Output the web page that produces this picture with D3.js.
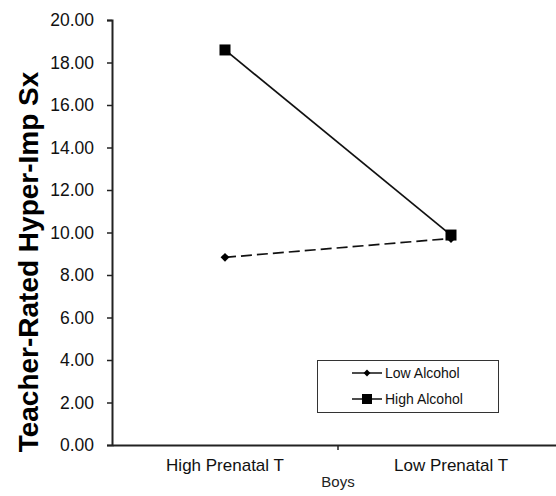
<!DOCTYPE html>
<html><head><meta charset="utf-8">
<script src="https://cdn.jsdelivr.net/npm/d3@7"></script>
<style>body{margin:0;background:#fff}svg{display:block}</style>
</head><body>
<svg id="c" width="556" height="496"></svg>
<script>
const categories = ["High Prenatal T", "Low Prenatal T"];
const lowAlcohol = [8.83, 9.72];
const highAlcohol = [18.59, 9.88];
const yTicks = [0, 2, 4, 6, 8, 10, 12, 14, 16, 18, 20];
const seriesNames = ["Low Alcohol", "High Alcohol"];

const FONT = "Liberation Sans, Arial, sans-serif";
const svg = d3.select("#c");
const x = d3.scaleBand().domain(categories).range([112, 564]);
const y = d3.scaleLinear().domain([0, 20]).range([445, 20]);
const cx = c => x(c) + x.bandwidth() / 2;

// y axis
const ya = svg.append("g").attr("transform", "translate(112,0)")
  .call(d3.axisLeft(y).tickValues(yTicks).tickFormat(d3.format(".2f")).tickSizeOuter(0).tickSize(5).tickPadding(13));
ya.select(".domain").attr("stroke", "#222").attr("stroke-width", 2);
ya.selectAll(".tick line").attr("stroke", "#222").attr("stroke-width", 1.5);
ya.selectAll("text").attr("font-family", FONT).attr("font-size", 17.5).attr("fill", "#111");

// x axis
const xa = svg.append("g").attr("transform", "translate(0,445)")
  .call(d3.axisBottom(x).tickSize(0).tickSizeOuter(0).tickPadding(14));
xa.select(".domain").attr("stroke", "#222").attr("stroke-width", 2);
xa.selectAll(".tick line").remove();
xa.selectAll("text").attr("font-family", FONT).attr("font-size", 17).attr("fill", "#111");
// boundary tick mark between categories
svg.append("line").attr("x1", x(categories[1])).attr("x2", x(categories[1]))
  .attr("y1", 445).attr("y2", 450).attr("stroke", "#222").attr("stroke-width", 1.5);

svg.append("text").attr("x", x(categories[1])).attr("y", 487).attr("text-anchor", "middle")
  .attr("font-family", FONT).attr("font-size", 15).attr("fill", "#222").text("Boys");

svg.append("text").attr("transform", "translate(38,262) rotate(-90)").attr("text-anchor", "middle")
  .attr("font-family", FONT).attr("font-size", 28).attr("font-weight", "bold")
  .attr("fill", "#000").text("Teacher-Rated Hyper-Imp Sx");

const line = d3.line().x((d, i) => cx(categories[i])).y(d => y(d));

svg.append("path").datum(lowAlcohol).attr("d", line).attr("fill", "none")
  .attr("stroke", "#111").attr("stroke-width", 1.7).attr("stroke-dasharray", "11,5");
svg.append("path").datum(highAlcohol).attr("d", line).attr("fill", "none")
  .attr("stroke", "#111").attr("stroke-width", 1.7);

const diamond = d3.symbol().type(d3.symbolDiamond2).size(50);
svg.selectAll(".dm").data(lowAlcohol).enter().append("path")
  .attr("transform", (d, i) => `translate(${cx(categories[i])},${y(d)})`).attr("d", diamond).attr("fill", "#000");
svg.selectAll(".sq").data(highAlcohol).enter().append("rect")
  .attr("x", (d, i) => cx(categories[i]) - 5.5).attr("y", d => y(d) - 5.5)
  .attr("width", 11).attr("height", 11).attr("fill", "#000");

// legend
const lg = svg.append("g");
lg.append("rect").attr("x", 317.5).attr("y", 360.5).attr("width", 181).attr("height", 52)
  .attr("fill", "#fff").attr("stroke", "#333").attr("stroke-width", 1);
seriesNames.forEach((n, i) => {
  const ly = 373 + i * 26;
  lg.append("line").attr("x1", 352).attr("x2", 382).attr("y1", ly).attr("y2", ly).attr("stroke", "#111").attr("stroke-width", 1.5);
  if (i === 0) lg.append("path").attr("transform", `translate(367,${ly})`).attr("d", d3.symbol().type(d3.symbolDiamond2).size(30)).attr("fill", "#000");
  else lg.append("rect").attr("x", 362).attr("y", ly - 5).attr("width", 10).attr("height", 10).attr("fill", "#000");
  lg.append("text").attr("x", 385).attr("y", ly + 5).attr("font-family", FONT)
    .attr("font-size", 14).attr("fill", "#111").text(n);
});
</script>
</body></html>
